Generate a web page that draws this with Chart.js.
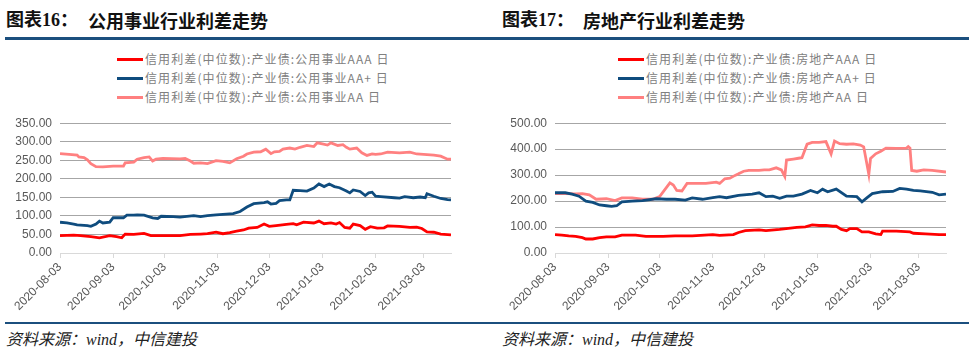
<!DOCTYPE html>
<html><head><meta charset="utf-8">
<script src="https://cdn.jsdelivr.net/npm/chart.js@4.4.1/dist/chart.umd.min.js"></script>
<style>
html,body{margin:0;padding:0;background:#fff;width:972px;height:356px;overflow:hidden;position:relative;font-family:"Liberation Sans",Arial,"Noto Sans CJK SC",sans-serif;}
.title{position:absolute;top:8px;font-family:"Liberation Serif","Noto Sans CJK SC",serif;font-weight:bold;font-size:18px;color:#111;white-space:pre;line-height:24px;}
.title.cjk{font-family:"Noto Sans CJK SC",sans-serif;}
.rule{position:absolute;height:3px;background:#1b4f7e;}
.src{position:absolute;top:330px;font-family:"Liberation Serif","Noto Sans CJK SC",serif;font-style:italic;font-size:16px;color:#222;line-height:20px;}
.legend{position:absolute;font-family:"Noto Sans CJK SC",sans-serif;font-size:12px;letter-spacing:1.1px;color:#808080;}
.legend .row{position:absolute;left:0;height:19px;line-height:19px;white-space:pre;}
.legend .sw{display:inline-block;width:26px;height:3px;vertical-align:middle;margin-right:2px;position:relative;top:-1px;}
canvas{position:absolute;}
</style></head><body>
<div class="title" style="left:6px">图表16：</div>
<div class="title cjk" style="left:88px">公用事业行业利差走势</div>
<div class="title" style="left:502px">图表17：</div>
<div class="title cjk" style="left:583px">房地产行业利差走势</div>
<div class="rule" style="left:5px;width:481px;top:37px"></div>
<div class="rule" style="left:486px;width:483px;top:37px"></div>
<div class="legend" id="legL" style="left:117px;top:49px"></div>
<div class="legend" id="legR" style="left:618px;top:49px"></div>
<canvas id="cL" width="480" height="215" style="left:0;top:108px"></canvas>
<canvas id="cR" width="480" height="215" style="left:486px;top:108px"></canvas>
<div class="rule" style="left:5px;width:481px;top:322px;height:2px"></div>
<div class="rule" style="left:486px;width:483px;top:322px;height:2px"></div>
<div class="src" style="left:6px">资料来源：wind，中信建投</div>
<div class="src" style="left:502px">资料来源：wind，中信建投</div>
<script>
// x values are calendar days counted from 2020-08-03
const tickDays = [0, 31, 61, 92, 122, 153, 184, 212];
const tickLabels = ['2020-08-03','2020-09-03','2020-10-03','2020-11-03','2020-12-03','2021-01-03','2021-02-03','2021-03-03'];

const seriesNamesL = ['信用利差(中位数):产业债:公用事业AAA 日','信用利差(中位数):产业债:公用事业AA+ 日','信用利差(中位数):产业债:公用事业AA 日'];
const seriesNamesR = ['信用利差(中位数):产业债:房地产AAA 日','信用利差(中位数):产业债:房地产AA+ 日','信用利差(中位数):产业债:房地产AA 日'];

// 公用事业 AAA
const utilAAADays = [0,8,12,18,23,29,33,36,38,43,49,53,60,70,76,82,86,91,95,99,103,107,110,115,119,122,126,132,136,138,142,148,151,154,158,161,163,166,169,171,175,178,181,185,189,191,198,204,208,211,214,218,222,228];
const utilAAAVals = [47,48,47,44,41,47,44,41,51,50,53,47,47,47,50,51,52,56,52,55,59,62,67,69,78,72,74,77,79,76,83,81,86,79,81,78,82,69,67,78,74,64,71,67,68,73,72,69,70,66,57,56,51,49];
// 公用事业 AA+
const utilAAplusDays = [0,4,8,10,16,18,21,23,25,29,31,37,39,43,45,49,54,57,59,66,70,78,82,86,91,101,105,109,113,119,121,123,126,128,132,134,136,140,144,148,151,154,157,160,163,167,169,171,175,178,180,182,184,187,195,198,201,206,210,213,214,218,222,226,228];
const utilAAplusVals = [83,81,78,76,74,72,78,86,81,83,95,95,102,102,103,102,95,93,99,98,97,101,98,101,103,106,112,124,133,136,138,132,134,141,143,143,169,168,167,175,186,179,186,179,176,167,162,170,166,155,162,164,153,152,149,148,152,149,151,149,160,153,147,144,143];
// 公用事业 AA
const utilAADays = [0,7,10,11,14,16,18,21,25,31,33,37,38,43,45,49,52,54,56,60,70,73,76,78,82,86,91,95,99,103,107,109,113,117,120,123,125,128,130,134,137,140,144,148,150,153,156,158,162,165,167,169,173,176,179,182,184,187,191,198,204,208,212,218,222,226,228];
const utilAAVals = [268,265,264,259,257,251,241,233,232,234,234,234,243,245,253,257,259,248,253,255,254,255,248,242,243,241,249,247,243,254,261,267,272,273,280,268,273,274,280,283,280,285,290,287,297,294,291,297,290,292,285,280,283,270,263,267,266,267,272,270,272,267,266,264,261,253,253];

// 房地产 AAA
const realAAADays = [0,4,8,12,16,18,22,26,30,35,39,47,53,63,70,80,92,96,104,107,111,119,123,131,141,146,150,154,158,162,164,167,170,172,176,179,183,187,190,191,199,207,209,216,224,228];
const realAAAVals = [71,69,66,64,59,54,54,59,62,62,69,69,64,64,66,66,71,68,71,79,86,89,86,91,99,101,108,106,106,103,103,91,86,94,94,81,81,74,71,84,84,81,76,74,71,71];
// 房地产 AA+
const realAAplusDays = [0,6,10,14,18,22,26,30,33,36,39,45,51,59,65,70,76,80,86,92,96,100,107,115,119,123,127,131,135,139,144,149,153,156,159,164,170,176,179,182,185,191,197,201,205,209,213,220,224,228];
const realAAplusVals = [232,232,227,219,200,195,185,182,180,182,197,200,202,209,207,207,204,212,207,213,217,213,222,227,232,217,219,211,219,219,227,241,232,246,236,246,219,217,197,213,229,236,237,249,246,241,239,234,224,227];
// 房地产 AA
const realAADays = [0,6,12,16,20,24,30,35,39,45,51,57,61,67,69,71,74,77,82,88,94,96,99,102,105,107,110,113,119,122,125,129,132,134,135,139,142,144,147,150,154,158,161,163,166,170,174,178,180,183,184,187,190,193,199,205,206,207,208,211,215,220,228];
const realAAVals = [229,229,228,229,224,207,209,202,212,212,207,207,217,270,262,241,239,268,268,268,273,268,286,288,299,305,315,318,318,320,320,328,320,295,358,362,365,367,419,426,426,429,382,431,421,419,420,416,409,303,364,382,392,404,403,404,410,404,318,315,320,318,312];

const colAAA = '#ff0000', colAAplus = '#0f4c7e', colAA = '#ff8080';

function pts(days, vals){ return days.map((d,i)=>({x:d, y:vals[i]})); }

function makeChart(id, names, series, ymax, yWidth, padRight, legId){
  const cols = [colAAA, colAAplus, colAA];
  const datasets = series.map((s,i)=>({label:names[i], data:pts(s[0], s[1]), borderColor:cols[i], backgroundColor:cols[i], borderWidth:2.8, pointRadius:0, tension:0, fill:false}));
  const ch = new Chart(document.getElementById(id), {
    type:'line',
    data:{datasets},
    options:{
      responsive:false, animation:false, devicePixelRatio:1,
      layout:{padding:{left:0,right:padRight,top:9,bottom:0}},
      plugins:{legend:{display:false}, tooltip:{enabled:false}},
      scales:{
        x:{type:'linear', min:0, max:228,
          afterBuildTicks:(ax)=>{ ax.ticks = tickDays.map(v=>({value:v})); },
          afterFit:(ax)=>{ ax.height = 70; },
          ticks:{autoSkip:false, minRotation:45, maxRotation:45, color:'#595959', font:{family:'"Liberation Sans", Arial', size:12}, padding:2,
            callback:(v)=>{ const i = tickDays.indexOf(v); return i>=0 ? tickLabels[i] : ''; }},
          grid:{drawOnChartArea:false, drawTicks:true, tickLength:5, color:'#d9d9d9'},
          border:{color:'#d9d9d9', width:1}
        },
        y:{min:0, max:ymax,
          afterFit:(ax)=>{ ax.width = yWidth; },
          ticks:{stepSize:50, color:'#595959', font:{family:'"Liberation Sans", Arial', size:12}, padding:8, callback:(v)=>v.toFixed(2)},
          grid:{drawTicks:false, color:(c)=> c.tick && c.tick.value===0 ? 'rgba(0,0,0,0)' : '#a6a6a6', borderDash:[2,1], lineWidth:1},
          border:{display:false}
        }
      }
    }
  });
  const leg = document.getElementById(legId);
  datasets.forEach((d,i)=>{
    const r = document.createElement('div'); r.className='row'; r.style.top=(i*19)+'px';
    const sw = document.createElement('span'); sw.className='sw'; sw.style.background=d.borderColor;
    r.appendChild(sw); r.appendChild(document.createTextNode(d.label)); leg.appendChild(r);
  });
  return ch;
}

makeChart('cL', seriesNamesL, [[utilAAADays,utilAAAVals],[utilAAplusDays,utilAAplusVals],[utilAADays,utilAAVals]], 350, 60, 29, 'legL');
makeChart('cR', seriesNamesR, [[realAAADays,realAAAVals],[realAAplusDays,realAAplusVals],[realAADays,realAAVals]], 500, 69, 20, 'legR');
</script>
</body></html>
